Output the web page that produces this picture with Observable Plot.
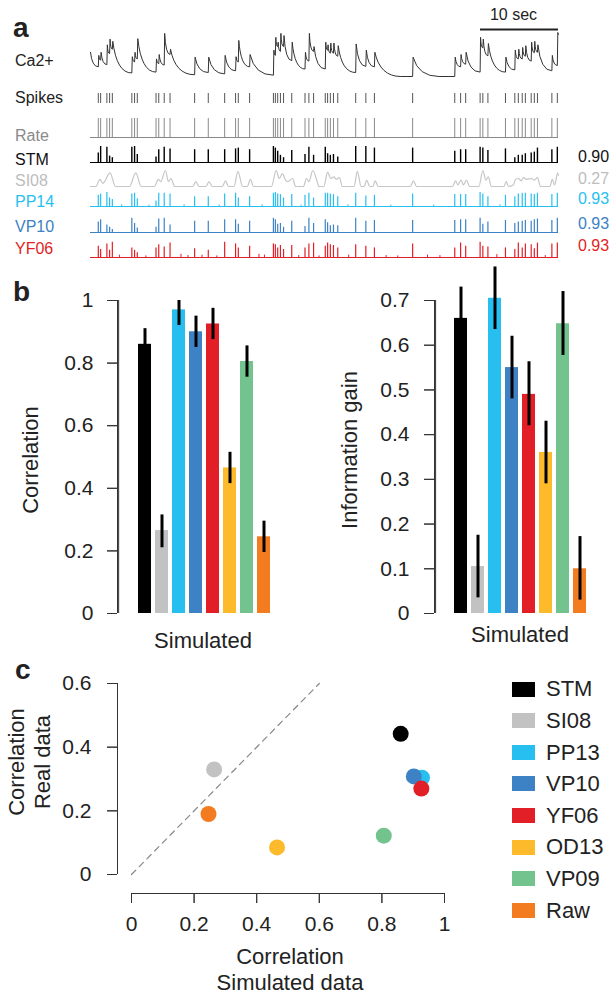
<!DOCTYPE html>
<html>
<head>
<meta charset="utf-8">
<script src="https://cdn.jsdelivr.net/npm/d3@7"></script>
<script src="https://cdn.jsdelivr.net/npm/@observablehq/plot@0.6"></script>
<style>
  html, body { margin: 0; padding: 0; background: #fff; }
  #fig { position: relative; width: 614px; height: 998px; font-family: "Liberation Sans", Arial, sans-serif; }
</style>
</head>
<body>
<div id="fig"></div>
<script>
// ---------------- DATA ----------------
// panel a: spike times (s), 60 s window
const spikes = [1.0,1.3,2.1,2.45,2.8, 5.3,5.65,6.0, 8.4,8.75,9.45,10.2, 13.35,15.1,17.2,18.6,18.95,20.4,
  23.45,23.7,24.0,24.35,24.75,25.8, 27.5,28.0,28.6, 30.1,30.4,30.75,31.15,31.7, 34.0,35.3,36.4, 41.3,
  46.7,47.45,48.1,49.95,50.3,50.95, 53.2,54.4,54.85,55.35,55.75,56.5,56.9,57.3, 59.15,59.85];
// Ca2+ fluorescence: level just before each spike and just after it
const caStart = 0.55, caEnd = 0.95;
const caTrough = [0.22,0.37,0.27,0.52,0.62, 0.08,0.33,0.40, 0.10,0.29,0.26,0.50, 0.04,0.09,0.06,0.13,0.33,0.22,
  0.03,0.48,0.68,0.57,0.68,0.36, 0.17,0.35,0.57, 0.17,0.60,0.53,0.53,0.46, 0.09,0.23,0.22, 0.0,
  0.0,0.22,0.28,0.10,0.65,0.47, 0.10,0.15,0.40,0.40,0.46,0.35,0.54,0.55, 0.13,0.25];
const caPeak = [0.48,0.55,0.72,0.85,0.80, 0.45,0.55,0.86, 0.40,0.50,0.98,0.62, 0.44,0.44,0.48,0.45,0.82,0.50,
  0.60,0.89,0.78,0.98,0.93,0.78, 0.55,0.98,0.68, 0.78,0.72,0.76,0.76,0.70, 0.74,0.60,0.55, 0.44,
  0.44,0.50,0.55,0.89,0.85,0.75, 0.44,0.60,0.62,0.66,0.70,0.78,0.80,0.72, 0.48,1.0];
const scaleBar = [50, 60];
const scaleLabel = ["10 sec"];
// inferred spike amplitudes per model
const stmH = [0.6,1.0,0.95,0.4,0.3, 0.95,1.0,0.5, 0.35,0.8,0.95,0.85, 0.8,0.8,0.8,0.85,0.9,0.8,
  1.0,0.9,0.7,0.45,0.3,0.75, 0.5,0.95,0.45, 0.95,0.55,0.45,0.5,0.35, 1.0,1.0,0.9, 0.9,
  0.7,0.8,0.8,0.95,0.9,0.75, 0.85,0.3,0.45,0.45,0.55,0.6,0.65,0.9, 0.8,0.95];
const ppH = [0.8,0.9,1.0,0.6,0.5, 0.9,0.95,0.55, 0.4,0.95,0.95,0.9, 0.7,0.7,0.9,0.95,0.6,0.7,
  0.95,1.0,0.9,0.85,0.6,0.85, 0.8,0.95,0.6, 0.95,0.95,0.9,0.85,0.7, 0.95,0.75,0.8, 0.9,
  0.85,0.85,0.85,1.0,0.9,0.7, 0.8,0.7,0.9,0.95,0.95,0.9,0.85,0.95, 0.85,0.95];
const vpH = [0.7,0.85,0.5,0.35,0.2, 0.95,0.6,0.3, 0.35,0.9,0.95,0.5, 0.75,0.75,0.85,0.85,0.55,0.75,
  0.95,0.85,0.55,0.6,0.35,0.75, 0.4,0.95,0.6, 0.85,0.65,0.45,0.5,0.45, 0.95,0.75,0.8, 0.8,
  0.8,0.85,0.85,0.95,0.55,0.7, 0.8,0.6,0.7,0.75,0.8,0.75,0.85,0.9, 0.8,0.95];
const yfH = [0.7,0.5,0.85,0.45,0.95, 0.6,0.45,0.3, 0.6,0.8,0.65,0.9, 0.55,0.45,0.95,0.85,0.6,0.7,
  0.85,0.8,0.6,0.75,0.5,0.75, 0.6,0.85,0.9, 0.7,0.9,0.8,0.75,0.6, 0.8,0.7,0.6, 0.85,
  0.6,0.9,0.7,0.95,0.7,0.65, 0.6,0.5,0.9,0.6,0.85,0.8,0.55,0.9, 0.85,0.9];
const ppExtraT = [4.0,7.5,12.0,16.5,22.0,27.0,33.0,38.5,44.0,52.5];
const ppExtraH = [0.12,0.1,0.12,0.1,0.12,0.1,0.12,0.1,0.1,0.12];
const yfExtraT = [3.7,7.1,11.6,12.5,14.3,16.2,21.6,22.3,26.7,29.3,33.1,37.9,39.4,43.2,44.8,52.1,58.3];
const yfExtraH = [0.15,0.1,0.2,0.12,0.15,0.1,0.2,0.15,0.12,0.1,0.15,0.12,0.1,0.15,0.12,0.18,0.12];
// SI08 smooth rate estimate [time, value]
const si08 = [[0,0],[0.7,0],[1.2,0.45],[1.6,0.2],[2.5,0.85],[3.2,0],
  [5.0,0],[5.8,0.85],[6.5,0],
  [8.2,0],[8.7,0.45],[9.0,0.3],[9.6,1.0],[10.0,0.3],[10.3,0.5],[10.8,0],
  [13.1,0],[13.5,0.3],[13.9,0],[14.8,0],[15.2,0.3],[15.6,0],[16.9,0],[17.3,0.35],[17.7,0],
  [18.4,0],[18.9,0.95],[19.5,0],[20.1,0],[20.5,0.45],[20.9,0],
  [23.2,0],[23.8,1.0],[24.2,0.5],[24.6,0.8],[25.0,0.4],[25.3,0.3],[25.9,0.5],[26.3,0],
  [27.3,0],[27.7,0.5],[28.0,0.3],[28.5,1.0],[29.0,0.4],[29.3,0],
  [29.9,0],[30.4,0.9],[30.8,0.5],[31.2,0.6],[31.5,0.45],[31.9,0.55],[32.3,0],
  [33.8,0],[34.2,0.95],[34.7,0],[35.1,0],[35.4,0.4],[35.8,0],[36.2,0],[36.5,0.35],[36.9,0],
  [41.0,0],[41.4,0.35],[41.8,0],
  [46.4,0],[46.8,0.35],[47.1,0.1],[47.5,0.4],[47.8,0.1],[48.2,0.4],[48.6,0],
  [49.8,0],[50.3,1.0],[50.7,0.4],[51.0,0.6],[51.4,0],
  [53.0,0],[53.3,0.3],[53.6,0],[54.2,0.1],[54.5,0.45],[54.9,0.5],[55.2,0.35],[55.5,0.55],[55.9,0.45],
  [56.6,0.5],[56.9,0.4],[57.3,0.55],[57.7,0],
  [58.9,0],[59.2,0.45],[59.5,0.1],[59.9,0.85],[60,0.7]];
const rowNames = ["Ca2+","Spikes","Rate","STM","SI08","PP14","VP10","YF06"];
const rowScores = {STM:"0.90", SI08:"0.27", PP14:"0.93", VP10:"0.93", YF06:"0.93"};

// panels b, c
const models = ["STM","SI08","PP13","VP10","YF06","OD13","VP09","Raw"];
const colors = ["#000000","#c2c2c2","#27bff0","#3c82c4","#e21f26","#fdbb2b","#73c38f","#f47c20"];
const corrMean = [0.86,0.265,0.97,0.90,0.925,0.465,0.805,0.245];
const corrLo   = [0.81,0.21,0.92,0.85,0.875,0.415,0.755,0.195];
const corrHi   = [0.91,0.315,1.0,0.95,0.975,0.515,0.855,0.295];
const infoMean = [0.66,0.105,0.705,0.55,0.49,0.36,0.648,0.10];
const infoLo   = [0.59,0.035,0.635,0.48,0.42,0.29,0.577,0.03];
const infoHi   = [0.73,0.175,0.775,0.62,0.563,0.43,0.72,0.172];
const simCorr  = [0.86,0.264,0.928,0.902,0.926,0.465,0.806,0.246];
const realCorr = [0.442,0.330,0.304,0.308,0.270,0.085,0.122,0.190];
const ticksCorr = [0,0.2,0.4,0.6,0.8,1];
const ticksInfo = [0,0.1,0.2,0.3,0.4,0.5,0.6,0.7];
const ticksCx = [0,0.2,0.4,0.6,0.8,1];
const ticksCy = [0,0.2,0.4,0.6];
const diag = [0,0.6];

// ---------------- RENDER ----------------
const FONT = '"Liberation Sans", Arial, sans-serif';
const fig = document.getElementById("fig");
const CYAN = colors[2], BLUE = colors[3], RED = colors[4];
const AXC = "#333", AXW = 1;
const place = (left, top) => ({position:"absolute", left:left + "px", top:top + "px", background:"transparent",
  overflow:"visible", fontFamily:FONT, fontSize:"21px", color:"#222"});

// curve: straight rises, exponential-looking decays
function caCurve(context) {
  let n = 0, x0 = 0, y0 = 0;
  return {
    areaStart(){}, areaEnd(){},
    lineStart(){ n = 0; },
    lineEnd(){},
    point(x, y) {
      x = +x; y = +y;
      if (n++ === 0) context.moveTo(x, y);
      else if (y <= y0) context.lineTo(x, y);
      else {
        const w = x - x0, L = Math.min(w, 26);
        context.quadraticCurveTo(x0 + 0.2 * L, y, x0 + L, y);
        if (L < w) context.lineTo(x, y);
      }
      x0 = x; y0 = y;
    }
  };
}
const caLine = [{t:0, v:caStart}];
spikes.forEach((t, i) => { caLine.push({t, v:caTrough[i]}); caLine.push({t:t + 0.06, v:caPeak[i]}); });
caLine.push({t:60, v:caEnd});

// each trace row is its own strip (x 85..565), stacked without overlap
function row(top, height, range, marks) {
  fig.appendChild(Plot.plot({
    width:480, height, margin:0,
    x:{domain:[0,60], range:[5,473], axis:null},
    y:{domain:[0,1], range, axis:null},
    style: place(85, top),
    marks
  }));
}
const base = (c) => Plot.ruleY([0], {x1:0, x2:60, stroke:c, strokeWidth:1});
const ticks = (h, c, w=1) => Plot.ruleX(spikes, {x:d=>d, y1:0, y2:(d,i)=>h[i], stroke:c, strokeWidth:w});

row(0, 84, [76,32], [
  Plot.line(caLine, {x:"t", y:"v", curve:caCurve, stroke:"#333", strokeWidth:1}),
  Plot.ruleY([1], {x1:scaleBar[0], x2:scaleBar[1], dy:-3, stroke:"#222", strokeWidth:2}),
  Plot.text(scaleLabel, {x:(scaleBar[0] + scaleBar[1]) / 2, y:1, dy:-18, dx:-6, text:d=>d, fontSize:16, fill:"#222"})
]);
row(84, 24, [19,9], [Plot.ruleX(spikes, {x:d=>d, y1:0, y2:1, stroke:"#555", strokeWidth:1})]);
row(108, 32, [29,10], [base("#8a8a8a"), Plot.ruleX(spikes, {x:d=>d, y1:0, y2:1, stroke:"#8a8a8a", strokeWidth:1})]);
row(140, 25, [22,6], [base("#000"), ticks(stmH, "#000", 1.4)]);
row(165, 24, [21,5], [Plot.line(si08, {x:d=>d[0], y:d=>d[1], curve:"monotone-x", stroke:"#c6c6c6", strokeWidth:1.2})]);
row(189, 20, [17,3], [base(CYAN), ticks(ppH, CYAN, 1.2),
  Plot.ruleX(ppExtraT, {x:d=>d, y1:0, y2:(d,i)=>ppExtraH[i], stroke:CYAN})]);
row(209, 26, [23,8], [base(BLUE), ticks(vpH, BLUE, 1.2)]);
row(235, 25, [22,6], [base(RED), ticks(yfH, RED, 1.2),
  Plot.ruleX(yfExtraT, {x:d=>d, y1:0, y2:(d,i)=>yfExtraH[i], stroke:RED})]);

// panel b
const bars = models.map((m,i) => ({model:m, corr:corrMean[i], cLo:corrLo[i], cHi:corrHi[i],
  info:infoMean[i], iLo:infoLo[i], iHi:infoHi[i]}));
const axisOpts = {tickSize:10, tickFormat:d=>String(d), stroke:AXC, strokeWidth:AXW, fill:"#222", fontSize:21, label:null};
const halfBand = (r0, r1) => ((r1 - r0) / (8 - 0.26)) * 0.74 / 2;

fig.appendChild(Plot.plot({
  width:260, height:340, marginLeft:77, marginRight:0, marginTop:15, marginBottom:12,
  x:{domain:models, range:[97,230], paddingInner:0.26, paddingOuter:0, axis:null},
  y:{domain:[0,1]},
  color:{domain:models, range:colors},
  style: place(40, 285),
  marks:[
    Plot.ruleX([models[0]], {y1:0, y2:1, dx:77 - (97 + halfBand(97,230)), stroke:AXC, strokeWidth:AXW}),
    Plot.axisY({...axisOpts, ticks:ticksCorr, tickPadding:14}),
    Plot.barY(bars, {x:"model", y:"corr", fill:"model"}),
    Plot.ruleX(bars, {x:"model", y1:"cLo", y2:"cHi", stroke:"#000", strokeWidth:3})
  ]
}));
fig.appendChild(Plot.plot({
  width:249, height:363, marginLeft:69, marginRight:27, marginTop:38, marginBottom:12,
  x:{domain:models, range:[88,222], paddingInner:0.26, paddingOuter:0, axis:null},
  y:{domain:[0,0.7]},
  color:{domain:models, range:colors},
  style: place(365, 262),
  marks:[
    Plot.ruleX([models[0]], {y1:0, y2:0.7, dx:69 - (88 + halfBand(88,222)), stroke:AXC, strokeWidth:AXW}),
    Plot.axisY({...axisOpts, ticks:ticksInfo, tickPadding:15}),
    Plot.barY(bars, {x:"model", y:"info", fill:"model"}),
    Plot.ruleX(bars, {x:"model", y1:"iLo", y2:"iHi", stroke:"#000", strokeWidth:3})
  ]
}));

// panel c
const pts = models.map((m,i) => ({model:m, sim:simCorr[i], real:realCorr[i]}));
fig.appendChild(Plot.plot({
  width:400, height:280, marginLeft:63, marginRight:10, marginTop:23, marginBottom:47,
  x:{domain:[0,1], range:[77,390]},
  y:{domain:[0,0.6], range:[214,23]},
  color:{domain:models, range:colors},
  style: place(54, 660),
  marks:[
    Plot.ruleX([0], {y1:0, y2:0.6, dx:-14, stroke:AXC, strokeWidth:AXW}),
    Plot.ruleY([0], {x1:0, x2:1, dy:19, stroke:AXC, strokeWidth:AXW}),
    Plot.axisY({...axisOpts, ticks:ticksCy, tickPadding:16}),
    Plot.axisX({...axisOpts, ticks:ticksCx, tickPadding:13}),
    Plot.line(diag, {x:d=>d, y:d=>d, stroke:"#888", strokeWidth:1.2, strokeDasharray:"6,5"}),
    Plot.dot(pts, {x:"sim", y:"real", fill:"model", r:8})
  ]
}));

// ---------------- TEXT (HTML, outside the plot areas) ----------------
function label(t, x, y, o = {}) {
  const F = o.size || 16;
  const w = document.createElement("div");
  w.style.cssText = `position:absolute;left:${x}px;top:${y}px;width:0;height:0;` +
    (o.rot ? "transform:rotate(-90deg);transform-origin:0 0;" : "");
  const s = document.createElement("div");
  s.textContent = t;
  const tx = o.anchor === "middle" ? "translateX(-50%)" : o.anchor === "end" ? "translateX(-100%)" : "none";
  s.style.cssText = `position:absolute;left:0;top:${-0.8465 * F}px;font-size:${F}px;line-height:${F}px;` +
    `white-space:nowrap;color:${o.fill || "#222"};font-weight:${o.weight || "normal"};transform:${tx};`;
  w.appendChild(s);
  fig.appendChild(w);
}
label("a", 13, 38, {size:28, weight:"bold"});
label("b", 13, 302, {size:28, weight:"bold"});
label("c", 15, 680, {size:28, weight:"bold"});
const rowBase = [67,104,142,166,187,208,233,255];
const rowCol = ["#222","#222","#8a8a8a","#111","#bdbdbd",CYAN,BLUE,RED];
rowNames.forEach((n,i) => {
  label(n, 15, rowBase[i], {fill:rowCol[i]});
  if (rowScores[n]) label(rowScores[n], 578, rowBase[i] - 3 + (n==="SI08"?1:0), {fill:rowCol[i]});
});
label("Correlation", 39, 460, {rot:true, anchor:"middle", size:22});
label("Information gain", 358, 450, {rot:true, anchor:"middle", size:22});
label("Simulated", 203, 649, {anchor:"middle", size:22});
label("Simulated", 520, 643, {anchor:"middle", size:22});
label("Correlation", 25, 762, {rot:true, anchor:"middle", size:22});
label("Real data", 51, 762, {rot:true, anchor:"middle", size:22});
label("Correlation", 290, 965, {anchor:"middle", size:22});
label("Simulated data", 290, 991, {anchor:"middle", size:22});
// legend
models.forEach((m,i) => {
  const cy = 689 + i * 31.6;
  const sq = document.createElement("div");
  sq.style.cssText = `position:absolute;left:512px;top:${cy - 7.5}px;width:23px;height:15px;background:${colors[i]};`;
  fig.appendChild(sq);
  label(m, 546, cy + 8, {size:22});
});

// ---------------- AXIS LINES, drawn last on top of everything ----------------
// (same positions as the in-plot axes; layered on top so nothing can hide them)
function yAxisOverlay(tickVals, domain, axisX, top, bottom) {
  fig.appendChild(Plot.plot({
    width:614, height:998, marginLeft:axisX - 10, marginRight:614 - axisX, marginTop:top, marginBottom:998 - bottom,
    x:{domain:[0,1], axis:null}, y:{domain, axis:null},
    style: {...place(0, 0), pointerEvents:"none"},
    marks:[
      Plot.tickY(tickVals, {y:d=>d, stroke:AXC, strokeWidth:AXW}),
      Plot.ruleX([1], {y1:domain[0], y2:domain[1], stroke:AXC, strokeWidth:AXW})
    ]
  }));
}
function xAxisOverlay(tickVals, domain, left, right, axisY) {
  fig.appendChild(Plot.plot({
    width:614, height:998, marginLeft:left, marginRight:614 - right, marginTop:axisY, marginBottom:998 - axisY - 10,
    x:{domain, axis:null}, y:{domain:[0,1], axis:null},
    style: {...place(0, 0), pointerEvents:"none"},
    marks:[
      Plot.tickX(tickVals, {x:d=>d, stroke:AXC, strokeWidth:AXW}),
      Plot.ruleY([1], {x1:domain[0], x2:domain[1], stroke:AXC, strokeWidth:AXW})
    ]
  }));
}
yAxisOverlay(ticksCorr, [0,1], 117, 300, 613);
yAxisOverlay(ticksInfo, [0,0.7], 434, 300, 613);
yAxisOverlay(ticksCy, [0,0.6], 117, 683, 874);
xAxisOverlay(ticksCx, [0,1], 131, 444, 893);
</script>
</body>
</html>
